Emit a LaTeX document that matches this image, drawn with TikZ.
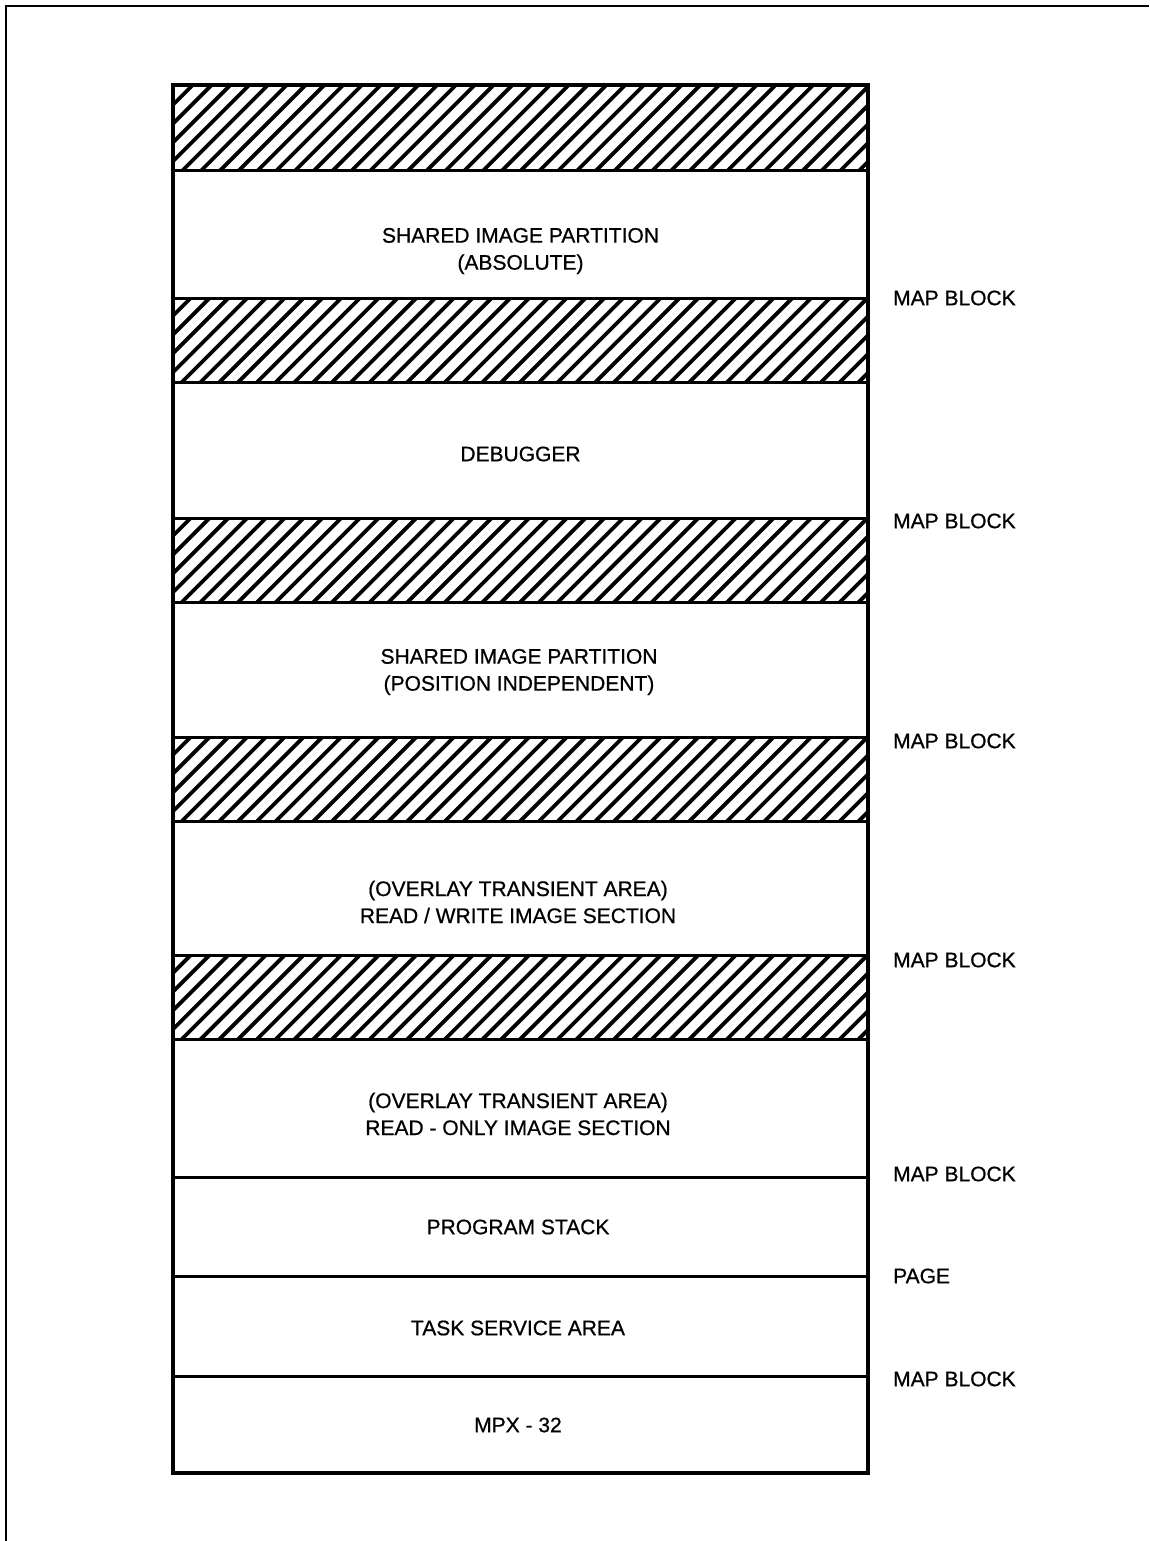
\documentclass[tikz,border=0pt]{standalone}
\usepackage{fontspec}
\setmainfont[UprightFeatures={FakeBold=0.7}]{Liberation Sans}
\begin{document}
\begin{tikzpicture}[x=1pt,y=-1pt,
  lbl/.style={font=\fontsize{21}{27}\selectfont, align=center, inner sep=0pt},
  side/.style={font=\fontsize{21}{27}\selectfont, anchor=west, inner sep=0pt},
  divider/.style={line width=3pt},
  hatchline/.style={line width=3.8pt},
  outerbox/.style={line width=4.5pt},
  frameline/.style={line width=2.5pt}]
\useasboundingbox (0,0) rectangle (1149,1541);
% frame
\draw[frameline] (6,1541) -- (6,6) -- (1149,6);
% hatched bands
\foreach \ya/\yb in {85/171, 298/382, 518/602, 737/821, 955/1039}{
  \begin{scope}
    \clip (173,\ya) rectangle (868,\yb);
    \pgfmathsetmacro{\h}{\yb-\ya}
    \foreach \i in {0,...,42}{
      \pgfmathsetmacro{\xs}{173-90+\i*18.8}
      \draw[hatchline] (\xs,\yb+5) -- ++(\h+10,-\h-10);
    }
  \end{scope}
  \draw[divider] (173,\ya) -- (868,\ya);
  \draw[divider] (173,\yb) -- (868,\yb);
}
% thin dividers
\foreach \y in {1177,1276,1376}{
  \draw[divider] (173,\y) -- (868,\y);
}
% outer box
\draw[outerbox] (173,85) rectangle (868,1473);
% labels
\node[lbl] (sipa) at (520.5,251) {SHARED IMAGE PARTITION\\(ABSOLUTE)};
\node[lbl] (dbg) at (520.5,454) {DEBUGGER};
\node[lbl] (sipp) at (519,672) {SHARED IMAGE PARTITION\\(POSITION INDEPENDENT)};
\node[lbl] (rw) at (518,902) {(OVERLAY TRANSIENT AREA)\\READ / WRITE IMAGE SECTION};
\node[lbl] (ro) at (518,1114) {(OVERLAY TRANSIENT AREA)\\READ - ONLY IMAGE SECTION};
\node[lbl] (ps) at (518,1227) {PROGRAM STACK};
\node[lbl] (tsa) at (518,1328) {TASK SERVICE AREA};
\node[lbl] (mpx) at (518,1425) {MPX - 32};
% side labels
\node[side] (m1) at (893,298) {MAP BLOCK};
\node[side] (m2) at (893,521) {MAP BLOCK};
\node[side] (m3) at (893,741) {MAP BLOCK};
\node[side] (m4) at (893,960) {MAP BLOCK};
\node[side] (m5) at (893,1174) {MAP BLOCK};
\node[side] (pg) at (893,1276) {PAGE};
\node[side] (m6) at (893,1379) {MAP BLOCK};
\end{tikzpicture}
\end{document}
